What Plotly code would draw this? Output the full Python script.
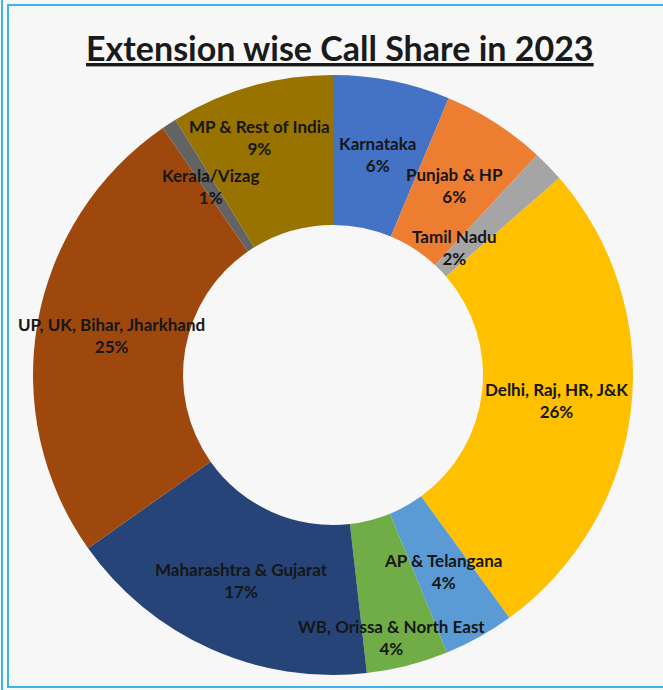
import math
import plotly.graph_objects as go

regions = ["Karnataka", "Punjab & HP", "Tamil Nadu", "Delhi, Raj, HR, J&K",
           "AP & Telangana", "WB, Orissa & North East", "Maharashtra & Gujarat",
           "UP, UK, Bihar, Jharkhand", "Kerala/Vizag", "MP & Rest of India"]
shares = [6.3, 5.6, 1.7, 26.4, 3.8, 4.4, 17.0, 25.2, 0.8, 8.8]
colors = ["#4472C4", "#ED7D31", "#A5A5A5", "#FFC000", "#5B9BD5",
          "#70AD47", "#264478", "#9E480E", "#636363", "#997300"]

# label nudges (pixels) mimicking the original label layout
nudges = {"Tamil Nadu": (-40, -29), "MP & Rest of India": (-12, 21),
          "WB, Orissa & North East": (3, -45)}

W, H = 663, 690
L, R, T, B = 33, 30, 75, 15
PW, PH = W - L - R, H - T - B
HOLE = 0.5

fig = go.Figure(go.Pie(
    labels=regions, values=shares, sort=False, direction="clockwise",
    rotation=0, hole=HOLE, marker=dict(colors=colors, line=dict(width=0)),
    textinfo="none", hoverinfo="label+percent", showlegend=False,
))

total = sum(shares)
cum = 0
R_out = min(PW, PH) / 2
r_mid = R_out * (1 + HOLE) / 2
annotations = []
for name, v in zip(regions, shares):
    mid = (cum + v / 2) / total * 2 * math.pi
    cum += v
    x = 0.5 + r_mid * math.sin(mid) / PW
    y = 0.5 + r_mid * math.cos(mid) / PH
    dx, dy = nudges.get(name, (0, 0))
    pct = round(v / total * 100)
    annotations.append(dict(
        x=x, y=y, xref="paper", yref="paper", showarrow=False,
        xanchor="center", yanchor="middle",
        text=f"<b>{name}<br>{pct}%</b>", xshift=dx, yshift=dy,
        font=dict(family="Lato, Calibri, sans-serif", size=17, color="#161616"),
        align="center",
    ))

annotations.append(dict(
    x=(340 - L) / PW, y=(H - B - 47) / PH, xref="paper", yref="paper",
    xanchor="center", yanchor="middle",
    showarrow=False, text="<b><u>Extension wise Call Share in 2023</u></b>",
    font=dict(family="Lato, Calibri, sans-serif", size=34, color="#1a1a1a"),
))

def px(x):
    return (x - L) / PW

def py(y):
    return (H - B - y) / PH

border = "#3DB4EC"
shapes = [
    dict(type="line", xref="paper", yref="paper", x0=px(2), x1=px(2), y0=py(0), y1=py(690),
         line=dict(color=border, width=2)),
    dict(type="rect", xref="paper", yref="paper", x0=px(8), x1=px(670), y0=py(5), y1=py(687),
         line=dict(color=border, width=2)),
]

fig.update_layout(
    width=W, height=H,
    margin=dict(l=L, r=R, t=T, b=B),
    paper_bgcolor="#F7F7F7", plot_bgcolor="#F7F7F7",
    annotations=annotations, shapes=shapes,
)

fig.write_html("out.html", config={"displayModeBar": False},
               post_script="document.body.style.margin='0';document.body.style.overflow='hidden';")
